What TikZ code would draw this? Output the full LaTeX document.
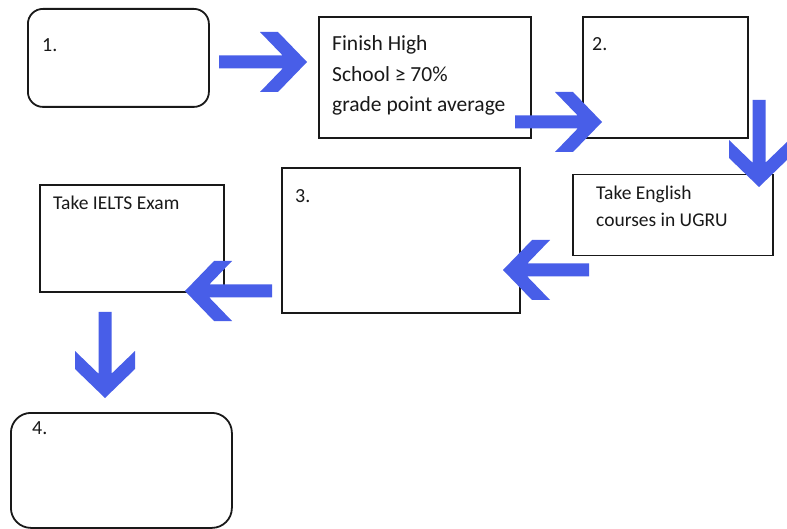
\documentclass[tikz,border=0pt]{standalone}
\usepackage{fontspec}
\setmainfont{Carlito}
\definecolor{arrowblue}{RGB}{72,94,232}
\definecolor{ink}{RGB}{25,25,25}
\tikzset{
  box/.style={draw=ink, line width=1.8pt, rectangle, inner sep=0pt, anchor=north west},
  rbox/.style={box, rounded corners=15pt},
  lbl/.style={anchor=base west, inner sep=0pt, text=ink, font=\fontsize{20}{24}\selectfont},
  lblbig/.style={lbl, font=\fontsize{21.5}{26}\selectfont},
  lblsm/.style={lbl, font=\fontsize{19.5}{23}\selectfont},
  blockarrow/.style={fill=arrowblue, draw=none},
}
\newcommand\blkarrow[3]{%
  \fill[blockarrow, shift={(#1)}, rotate=#2]
    (0,0) -- (-29,-30) -- (-47,-30) -- (-24.3,-6.5) -- (-#3,-6.5) -- (-#3,6.5)
    -- (-24.3,6.5) -- (-47,30) -- (-29,30) -- cycle;}
\begin{document}
\begin{tikzpicture}[x=1pt,y=-1pt]
  \fill[white] (0,0) rectangle (787,529);
  \useasboundingbox (0,0) rectangle (787,529);
  % boxes
  \node[rbox, minimum width=181pt, minimum height=98pt] (b1) at (27,8) {};
  \node[box, minimum width=212pt, minimum height=121pt] (bfh) at (318,16) {};
  \node[box, minimum width=165pt, minimum height=121pt] (b2) at (582,16) {};
  \node[box, line width=1.5pt, minimum width=200pt, minimum height=81pt] (beng) at (572,174) {};
  \node[box, minimum width=238pt, minimum height=145pt] (b3) at (281,167) {};
  \node[box, minimum width=184pt, minimum height=107pt] (bielts) at (39,184) {};
  \node[rbox, rounded corners=20pt, minimum width=221pt, minimum height=115pt] (b4) at (10,412) {};
  % texts
  \node[lbl] (t1) at (42,52) {1.};
  \node[lblbig] (tfh1) at (332,51) {Finish High};
  \node[lblbig] (tfh2) at (332,82) {School ≥ 70\%};
  \node[lblbig] (tfh3) at (332,112) {grade point average};
  \node[lbl] (t2) at (592,51) {2.};
  \node[lblsm] (teng1) at (596,200) {Take English};
  \node[lblsm] (teng2) at (596,227) {courses in UGRU};
  \node[lbl] (t3) at (295,203) {3.};
  \node[lblsm] (tielts) at (53,210) {Take IELTS Exam};
  \node[lbl] (t4) at (32,434) {4.};
  % arrow tips
  \coordinate (a1) at (307,62);
  \coordinate (a2) at (602,122);
  \coordinate (a3) at (759,187);
  \coordinate (a4) at (503,270);
  \coordinate (a5) at (185,291);
  \coordinate (a6) at (105,398);
  \blkarrow{a1}{0}{88}
  \blkarrow{a2}{0}{87}
  \blkarrow{a3}{-90}{87}
  \blkarrow{a4}{180}{86}
  \blkarrow{a5}{180}{87}
  \blkarrow{a6}{-90}{86}
\end{tikzpicture}
\end{document}
